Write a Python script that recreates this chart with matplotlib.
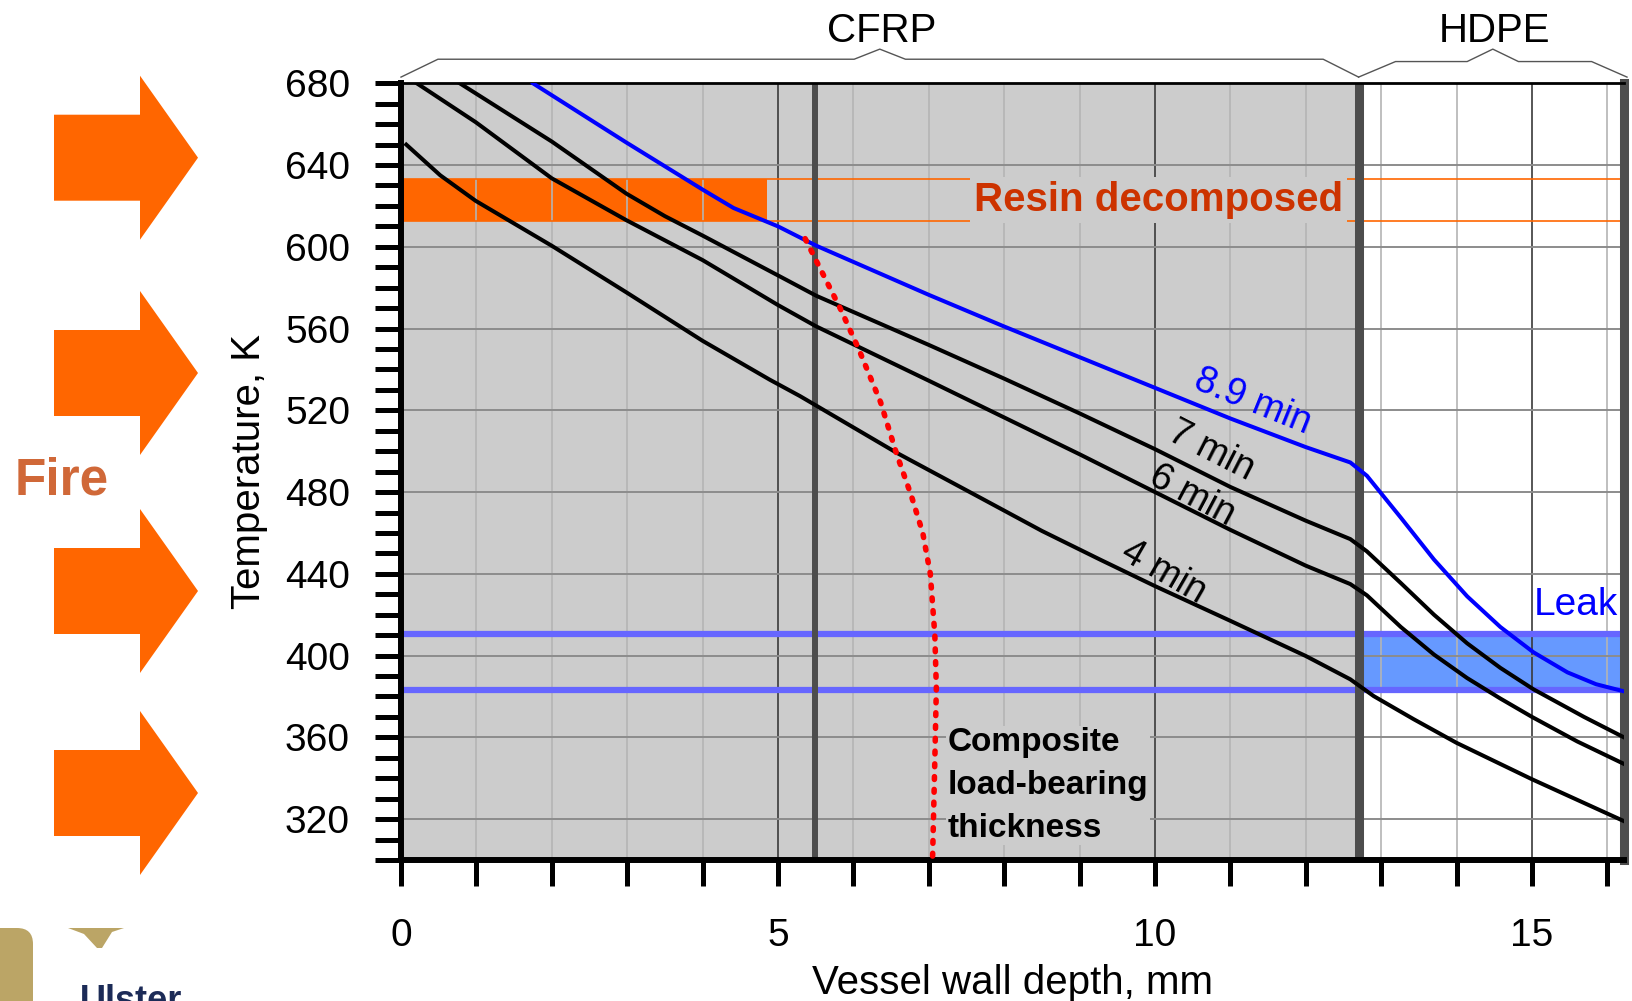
import matplotlib
matplotlib.use("Agg")
import matplotlib.pyplot as plt
import matplotlib.transforms as mtransforms
from matplotlib.ticker import MultipleLocator
from matplotlib.patches import Polygon, FancyBboxPatch

# ---------------- data ----------------
# temperature profiles through the wall, x = depth (mm), T = temperature (K)
t89_x = [1.75, 2.99, 4.0, 4.41, 5.0, 5.51, 7.0, 8.0, 9.0, 10.0, 11.0, 12.0, 12.59, 12.81,
         13.26, 13.70, 14.14, 14.58, 15.02, 15.47, 15.85, 16.2]
t89_T = [680, 651, 628, 619, 610, 600.5, 576.5, 561, 546, 531, 516, 502, 494.5, 488,
         467.5, 447, 429, 414, 401.6, 391.8, 386, 382.7]

t7_x = [0.78, 2.0, 2.99, 3.5, 4.0, 5.0, 5.51, 7.0, 8.0, 9.0, 10.0, 11.0, 12.0, 12.59,
        12.81, 13.26, 13.70, 14.14, 14.58, 15.02, 15.69, 16.22]
t7_T = [680, 651.5, 626, 615, 605.5, 586, 576, 552, 535.5, 518.5, 501, 482.5, 466, 457,
        451, 435.5, 420, 406, 394, 383.5, 370, 360]

t6_x = [0.21, 0.99, 2.0, 2.99, 4.0, 5.0, 5.51, 7.0, 8.0, 9.0, 10.0, 11.0, 12.0, 12.59,
        12.81, 13.26, 13.70, 14.14, 14.58, 15.0, 15.6, 16.22]
t6_T = [680, 661, 633.5, 613, 593.5, 571.5, 561, 534.5, 516.5, 498.5, 480, 461.5, 444, 435,
        429.5, 414, 400.5, 389, 379, 370, 358, 347]

t4_x = [0.07, 0.52, 0.99, 2.0, 2.99, 4.0, 4.89, 5.29, 6.57, 7.68, 8.5, 9.27, 10.0, 11.0,
        12.0, 12.59, 12.9, 13.43, 14.0, 15.0, 16.22]
t4_T = [650, 635, 622.5, 600.5, 577.7, 554, 535, 527, 499.3, 477.3, 461, 447, 434, 417,
        399.8, 388.4, 380.2, 368.9, 357.3, 339.5, 319]

# composite load-bearing thickness (dotted red)
load_x = [5.36, 5.83, 6.07, 6.36, 6.57, 6.77, 6.92, 7.02, 7.08, 7.10, 7.08, 7.05]
load_T = [604, 569.5, 550, 524, 499, 478, 460, 440, 410, 384, 349, 301]

curve_labels = ["8.9 min", "7 min", "6 min", "4 min"]
label_x = [11.3, 10.74, 10.49, 10.12]
label_T = [524, 500, 478, 441]
label_rot = [-22, -27, -28, -30]

layers = ["CFRP", "HDPE"]
layer_start = [0.0, 12.7]
layer_end = [12.7, 16.26]
cfrp_end = 12.7
decomp_front = 5.49       # thick grey line in the CFRP
resin_lo, resin_hi = 612.7, 633.0
resin_fill_end = 4.86
leak_lo, leak_hi = 383.3, 410.5

XMAX, YMIN, YMAX = 16.22, 300, 680

plt.rcParams["font.family"] = ["Liberation Sans", "DejaVu Sans"]

fig = plt.figure(figsize=(16.32, 10.01), dpi=100)

# ---------------- decoration layer in pixel coords ----------------
fx = fig.add_axes([0, 0, 1, 1])
fx.set_xlim(0, 1632)
fx.set_ylim(1001, 0)
fx.axis("off")

arrow_cy = [157.7, 373, 591, 793]
for cy in arrow_cy:
    pts = [(54, cy - 43), (140, cy - 43), (140, cy - 82), (198, cy),
           (140, cy + 82), (140, cy + 43), (54, cy + 43)]
    fx.add_patch(Polygon(pts, closed=True, facecolor="#FF6600", edgecolor="none"))
fx.text(62, 481, "Fire", color="#D06838", fontsize=37, fontweight="bold",
        ha="center", va="center")

# partial university logo at the bottom-left corner
fx.add_patch(FancyBboxPatch((-30, 928), 63, 110, boxstyle="round,pad=0,rounding_size=16",
                            facecolor="#BBA566", edgecolor="none"))
fx.add_patch(Polygon([(68, 928), (124, 928), (112, 932), (102, 948), (97, 948), (84, 934)],
                     closed=True, facecolor="#BBA566", edgecolor="none"))
fx.text(80, 984, "Ulster", color="#1C2B57", fontsize=26, fontweight="bold",
        ha="left", va="top")

# ---------------- main axes ----------------
ax = fig.add_axes([401 / 1632, 1 - 860 / 1001, (1624 - 401) / 1632, (860 - 83.3) / 1001])
ax.set_xlim(0, XMAX)
ax.set_ylim(YMIN, YMAX)
ax.set_facecolor("white")

ax.axvspan(0, cfrp_end, color="#CCCCCC", lw=0, zorder=0.1)

# resin decomposition band
ax.fill_between([0, resin_fill_end], resin_lo, resin_hi, color="#FF6600", lw=0, zorder=0.2)
ax.hlines([resin_lo, resin_hi], 0, XMAX, color="#FF6600", lw=1.2, zorder=0.6)

# leak band
ax.fill_between([cfrp_end, XMAX], leak_lo, leak_hi, color="#6699FF", lw=0, zorder=0.2)
ax.hlines([leak_lo, leak_hi], 0, XMAX, color="#6666FF", lw=4.5, zorder=1)

ax.axvline(decomp_front, color="#4D4D4D", lw=4.3, zorder=2)
ax.axvline(cfrp_end, color="#4D4D4D", lw=6.5, zorder=2)

# temperature profiles
ax.plot(t4_x, t4_T, color="black", lw=2.9, zorder=3, solid_joinstyle="round")
ax.plot(t6_x, t6_T, color="black", lw=2.9, zorder=3, solid_joinstyle="round")
ax.plot(t7_x, t7_T, color="black", lw=2.9, zorder=3, solid_joinstyle="round")
ax.plot(t89_x, t89_T, color="#0000FF", lw=2.9, zorder=3, solid_joinstyle="round")
ax.plot(load_x, load_T, color="red", lw=4, ls=(0, (0.5, 1.8)),
        dash_capstyle="round", zorder=4)

for lab, lx, lt, rot in zip(curve_labels, label_x, label_T, label_rot):
    col = "#0000FF" if lab.startswith("8.9") else "black"
    ax.text(lx, lt, lab, color=col, fontsize=27, rotation=rot, rotation_mode="anchor",
            ha="center", va="center", zorder=5)

ax.text(10.05, 623, "Resin decomposed", color="#CC3300", fontsize=29, fontweight="bold",
        ha="center", va="center", zorder=5,
        bbox=dict(facecolor="#CCCCCC", edgecolor="none", pad=3))
ax.text(7.25, 336.4, "Composite\nload-bearing\nthickness", color="black", fontsize=24,
        fontweight="bold", ha="left", va="center", linespacing=1.5,
        zorder=5, bbox=dict(facecolor="#CCCCCC", edgecolor="none", pad=1))
ax.text(16.14, 419.7, "Leak", color="#0000FF", fontsize=28, ha="right", va="baseline", zorder=5)

# grid & ticks
ax.xaxis.set_major_locator(MultipleLocator(5))
ax.xaxis.set_minor_locator(MultipleLocator(1))
ax.yaxis.set_major_locator(MultipleLocator(40))
ax.yaxis.set_minor_locator(MultipleLocator(10))
ax.set_axisbelow(True)
ax.grid(which="major", axis="x", color="#3A3A3A", lw=1.2)
ax.grid(which="minor", axis="x", color="#B4B4B4", lw=1.2)
ax.grid(which="major", axis="y", color="#8C8C8C", lw=1.4)

ax.tick_params(which="both", direction="out", length=18.7, width=3.6, color="black",
               top=False, right=False)
ax.tick_params(axis="x", which="major", pad=23, labelsize=28)
ax.tick_params(axis="y", which="major", pad=18, labelsize=28)

ax.spines["left"].set_linewidth(4.3)
ax.spines["bottom"].set_linewidth(4.3)
ax.spines["top"].set_linewidth(2)
ax.spines["right"].set_color("#4D4D4D")
ax.spines["right"].set_linewidth(6.5)

ax.set_xlabel("Vessel wall depth, mm", fontsize=29)
ax.xaxis.set_label_coords(0.5, -0.134)
ax.set_ylabel("Temperature, K", fontsize=29)
ax.yaxis.set_label_coords(-0.109, 0.5)

# layer braces above the plot
blend = mtransforms.blended_transform_factory(ax.transData, ax.transAxes)
for name, x0, x1 in zip(layers, layer_start, layer_end):
    xm = (x0 + x1) / 2
    y_flat = 1.031 if name == "CFRP" else 1.028
    xs = [x0, x0 + 0.49, xm - 0.34, xm, xm + 0.34, x1 - 0.47, x1]
    ys = [1.008, y_flat, y_flat, 1.044, y_flat, y_flat, 1.008]
    ax.plot(xs, ys, transform=blend, color="#555555", lw=1, clip_on=False)
    ax.text(xm + 0.02, 1.0537, name, transform=blend, fontsize=29,
            ha="center", va="baseline")

fig.savefig("out.png", dpi=100)
